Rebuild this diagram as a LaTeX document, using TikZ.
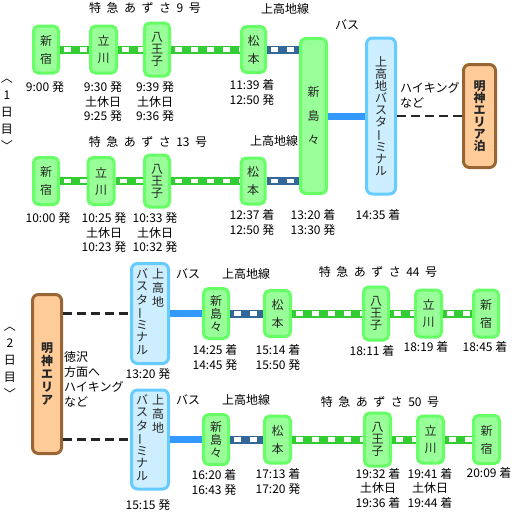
\documentclass[tikz,border=0pt]{standalone}
\usepackage{fontspec}
\usepackage{graphicx}
\setmainfont{Noto Sans CJK JP}
\definecolor{stFill}{HTML}{99FF99}
\definecolor{stDraw}{HTML}{66FF66}
\definecolor{railG}{HTML}{33CC33}
\definecolor{railB}{HTML}{336699}
\definecolor{busC}{HTML}{3399FF}
\definecolor{tmFill}{HTML}{CCEEFF}
\definecolor{tmDraw}{HTML}{66CCFF}
\definecolor{mjFill}{HTML}{FFCC99}
\definecolor{mjDraw}{HTML}{996633}
\newcommand\vchoon{\rotatebox[origin=c]{90}{ー}}
\newcommand\hs{\hspace{5.5pt}}
\begin{document}
\begin{tikzpicture}[x=1pt,y=-1pt,
  base/.style={inner sep=0pt, align=center, text=black!85, font=\fontsize{12pt}{12pt}\selectfont},
  st/.style={base, draw=stDraw, fill=stFill, line width=3pt, rounded corners=5pt},
  term/.style={base, draw=tmDraw, fill=tmFill, line width=3pt, rounded corners=6pt},
  mj/.style={base, draw=mjDraw, fill=mjFill, line width=3pt, rounded corners=6pt, font=\fontsize{12pt}{12pt}\selectfont\bfseries},
  lbl/.style={base, text=black},
  tm/.style={base, text=black, font=\fontsize{12pt}{14.5pt}\selectfont},
  side/.style={base, text=black, font=\fontsize{12pt}{17pt}\selectfont},
  rail/.style={draw=railG, line width=8pt, postaction={draw=white, line width=4.5pt, dash pattern=on 7pt off 9pt, dash phase=12pt}},
  lrail/.style={rail, draw=railB},
  bus/.style={draw=busC, line width=7pt},
  walk/.style={draw=black!85, line width=2.2pt, dash pattern=on 9pt off 5pt},
]
\useasboundingbox[fill=white] (0,0) rectangle (522,515);

% ---------- Day 1, row 1 ----------
\node[st, minimum width=25pt, minimum height=47pt] (s1a) at (46,49.5) {新\\[6pt]宿};
\node[st, minimum width=26pt, minimum height=47pt] (t1a) at (103.5,49.5) {立\\[5pt]川};
\node[st, minimum width=25pt, minimum height=53pt] (h1a) at (157,49.5) {八\\王\\子};
\node[st, minimum width=24pt, minimum height=46pt] (m1a) at (253.5,49.5) {松\\[6pt]本};
% ---------- Day 1, row 2 ----------
\node[st, minimum width=25pt, minimum height=47pt] (s1b) at (46,181) {新\\[6pt]宿};
\node[st, minimum width=26pt, minimum height=47pt] (t1b) at (101,181) {立\\[5pt]川};
\node[st, minimum width=25pt, minimum height=52pt] (h1b) at (157,181) {八\\王\\子};
\node[st, minimum width=24pt, minimum height=46pt] (m1b) at (253,181) {松\\[6pt]本};
% ---------- Day 1, shared ----------
\node[st, minimum width=26pt, minimum height=155pt] (n1) at (313.5,116) {新\\[12pt]島\\[12pt]々};
\node[term, minimum width=29pt, minimum height=156pt] (kt1) at (381,116) {上\\高\\地\\バ\\ス\\タ\\\vchoon\\ミ\\ナ\\ル};
\node[mj, minimum width=32pt, minimum height=103pt] (mj1) at (479.5,116) {明\\神\\エ\\リ\\ア\\泊};

\draw[rail] (s1a.east) -- (t1a.west);
\draw[rail] (t1a.east) -- (h1a.west);
\draw[rail] (h1a.east) -- (m1a.west);
\draw[lrail] (m1a.east) -- (m1a.east -| n1.west);
\draw[rail] (s1b.east) -- (t1b.west);
\draw[rail] (t1b.east) -- (h1b.west);
\draw[rail] (h1b.east) -- (m1b.west);
\draw[lrail] (m1b.east) -- (m1b.east -| n1.west);
\draw[bus] (n1.east) -- (kt1.west);
\draw[walk] (kt1.east) -- (mj1.west);

% labels day 1
\node[lbl] (ta9) at (145,8) {特\hs 急\hs あ\hs ず\hs さ\hs 9\hs 号};
\node[lbl] (kl1) at (285,9) {上高地線};
\node[lbl] (bs1) at (347,25) {バス};
\node[lbl] (ta13) at (148,142) {特\hs 急\hs あ\hs ず\hs さ\hs 13\hs 号};
\node[lbl] (kl2) at (274,141) {上高地線};
\node[lbl, align=left, anchor=west, font=\fontsize{12pt}{15pt}\selectfont] (hk1) at (400,95.5) {ハイキング\\など};
\node[side] (d1) at (7,115) {︿\\1\\日\\目\\﹀};

\node[tm] (ts1a) at (45,87) {9:00 発};
\node[tm] (tt1a) at (103,101.5) {9:30 発\\土休日\\9:25 発};
\node[tm] (th1a) at (155,101.5) {9:39 発\\土休日\\9:36 発};
\node[tm] (tm1a) at (252,92.5) {11:39 着\\12:50 発};
\node[tm] (ts1b) at (48,218) {10:00 発};
\node[tm] (tt1b) at (104,232.5) {10:25 発\\土休日\\10:23 発};
\node[tm] (th1b) at (155,232.5) {10:33 発\\土休日\\10:32 発};
\node[tm] (tm1b) at (252,222.5) {12:37 着\\12:50 発};
\node[tm] (tn1) at (313,222.5) {13:20 着\\13:30 発};
\node[tm] (tk1) at (378,215) {14:35 着};

% ---------- Day 2 ----------
\node[mj, minimum width=29pt, minimum height=159pt, font=\fontsize{12pt}{13pt}\selectfont\bfseries] (mj2) at (47,374) {明\\神\\エ\\リ\\ア};
\node[side] (d2) at (10,363) {︿\\2\\日\\目\\﹀};
\node[lbl, align=left, anchor=west, font=\fontsize{12pt}{15pt}\selectfont] (tk2) at (64,379.5) {徳沢\\方面へ\\ハイキング\\など};

% row 1
\node[term, minimum width=37pt, minimum height=100pt] (kt2a) at (150,313.5)
  {\begin{tabular}[t]{@{}c@{}}バ\\ス\\タ\\\vchoon\\ミ\\ナ\\ル\end{tabular}\hspace{4pt}\begin{tabular}[t]{@{}c@{}}上\\高\\地\end{tabular}};
\node[st, minimum width=25pt, minimum height=50pt] (n2a) at (216,313.5) {新\\[1pt]島\\[1pt]々};
\node[st, minimum width=26pt, minimum height=46pt] (m2a) at (277.5,313.5) {松\\[6pt]本};
\node[st, minimum width=25pt, minimum height=53pt] (h2a) at (376,313.5) {八\\王\\子};
\node[st, minimum width=26pt, minimum height=47pt] (t2a) at (428.5,313.5) {立\\[5pt]川};
\node[st, minimum width=25pt, minimum height=47pt] (s2a) at (486,313.5) {新\\[6pt]宿};

\draw[walk] (kt2a.west -| mj2.east) -- (kt2a.west);
\draw[bus] (kt2a.east) -- (n2a.west);
\draw[lrail] (n2a.east) -- (m2a.west);
\draw[rail] (m2a.east) -- (h2a.west);
\draw[rail] (h2a.east) -- (t2a.west);
\draw[rail] (t2a.east) -- (s2a.west);

\node[lbl] (bs2) at (188,274) {バス};
\node[lbl] (kl3) at (246,274) {上高地線};
\node[lbl] (ta44) at (378,272) {特\hs 急\hs あ\hs ず\hs さ\hs 44\hs 号};
\node[tm] (tk2a) at (148,374) {13:20 発};
\node[tm] (tn2a) at (215,357.5) {14:25 着\\14:45 発};
\node[tm] (tm2a) at (278,357.5) {15:14 着\\15:50 発};
\node[tm] (th2a) at (372,351) {18:11 着};
\node[tm] (tt2a) at (426,347) {18:19 着};
\node[tm] (ts2a) at (485,347) {18:45 着};

% row 2
\node[term, minimum width=37pt, minimum height=99pt] (kt2b) at (150,439.5)
  {\begin{tabular}[t]{@{}c@{}}バ\\ス\\タ\\\vchoon\\ミ\\ナ\\ル\end{tabular}\hspace{4pt}\begin{tabular}[t]{@{}c@{}}上\\高\\地\end{tabular}};
\node[st, minimum width=25pt, minimum height=50pt] (n2b) at (216,439.5) {新\\[1pt]島\\[1pt]々};
\node[st, minimum width=26pt, minimum height=47pt] (m2b) at (277.5,439.5) {松\\[6pt]本};
\node[st, minimum width=26pt, minimum height=53pt] (h2b) at (377.5,439.5) {八\\王\\子};
\node[st, minimum width=26pt, minimum height=47pt] (t2b) at (430.5,439.5) {立\\[5pt]川};
\node[st, minimum width=26pt, minimum height=48pt] (s2b) at (486.5,439.5) {新\\[6pt]宿};

\draw[walk] (kt2b.west -| mj2.east) -- (kt2b.west);
\draw[bus] (kt2b.east) -- (n2b.west);
\draw[lrail] (n2b.east) -- (m2b.west);
\draw[rail] (m2b.east) -- (h2b.west);
\draw[rail] (h2b.east) -- (t2b.west);
\draw[rail] (t2b.east) -- (s2b.west);

\node[lbl] (bs3) at (188,400) {バス};
\node[lbl] (kl4) at (246,400) {上高地線};
\node[lbl] (ta50) at (380,402) {特\hs 急\hs あ\hs ず\hs さ\hs 50\hs 号};
\node[tm] (tk2b) at (148,505) {15:15 発};
\node[tm] (tn2b) at (214,482.5) {16:20 着\\16:43 発};
\node[tm] (tm2b) at (278,481.5) {17:13 着\\17:20 発};
\node[tm] (th2b) at (378,488) {19:32 着\\土休日\\19:36 着};
\node[tm] (tt2b) at (430,488) {19:41 着\\土休日\\19:44 着};
\node[tm] (ts2b) at (489,473) {20:09 着};
\end{tikzpicture}
\end{document}
